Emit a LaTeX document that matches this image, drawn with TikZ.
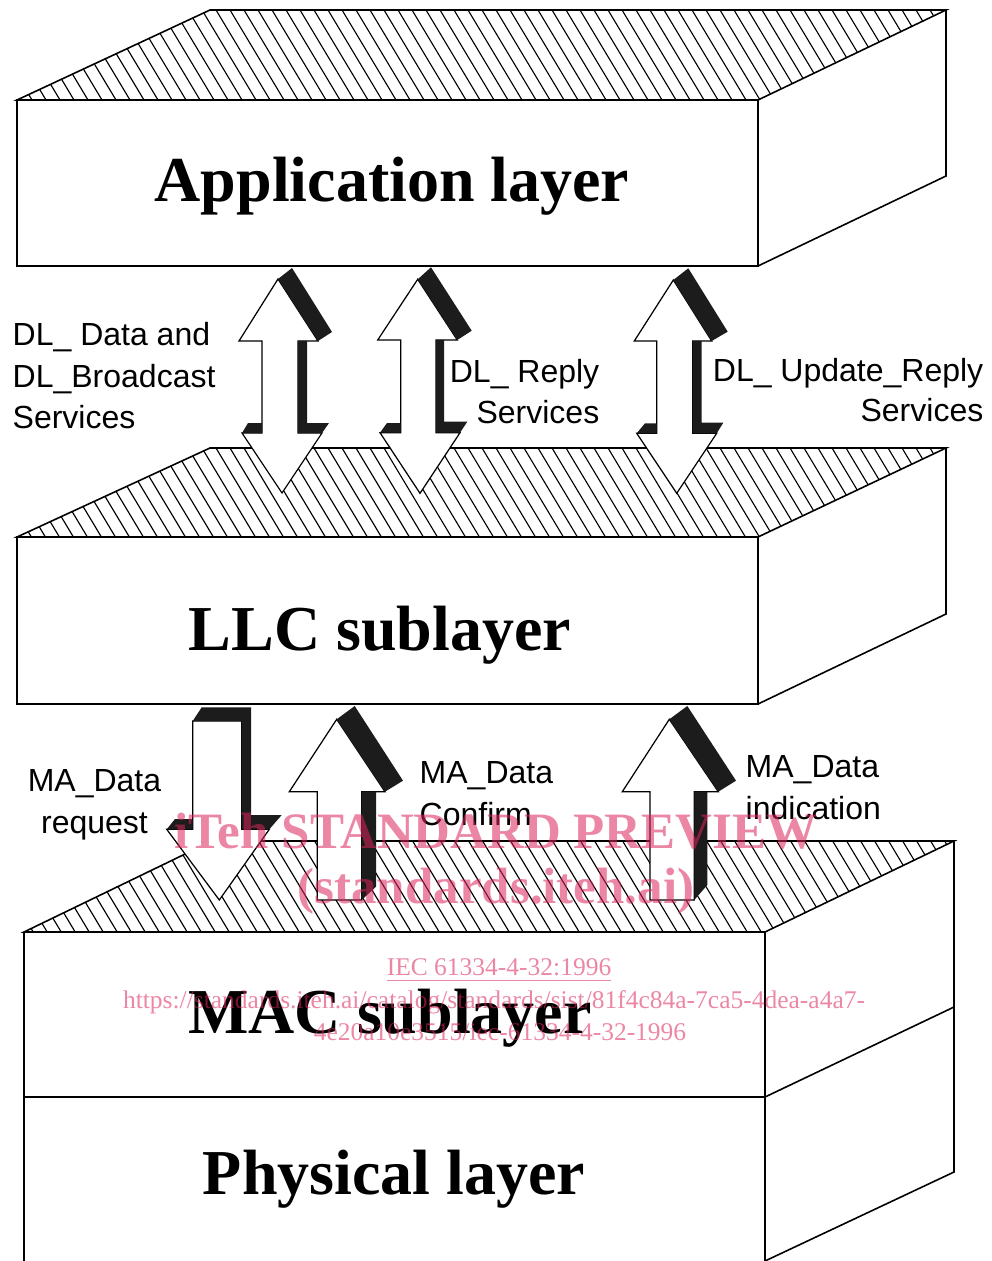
\documentclass[tikz,border=0pt]{standalone}
\usepackage{fontspec}
\setmainfont{Liberation Serif}
\newfontfamily\labelfont{Liberation Sans}
\definecolor{wmpink}{RGB}{219,37,91}
\definecolor{shadowblack}{RGB}{28,28,28}
\begin{document}
\begin{tikzpicture}[x=0.01cm,y=-0.01cm,
  edge/.style={line width=0.45pt, line join=miter},
  hatchline/.style={line width=0.32pt},
  arrowbody/.style={fill=white, draw=black, line width=0.35pt, line join=miter},
  shade3d/.style={fill=shadowblack, draw=none},
  title/.style={font=\fontsize{18.2pt}{20pt}\selectfont\bfseries, inner sep=0pt, anchor=base},
  lab/.style={font=\labelfont\fontsize{9.1pt}{11pt}\selectfont, inner sep=0pt},
  wmbig/.style={font=\fontsize{14.5pt}{16pt}\selectfont\bfseries, text=wmpink, text opacity=0.55, inner sep=0pt, anchor=base},
  wmsmall/.style={font=\fontsize{7.25pt}{9pt}\selectfont, text=wmpink, text opacity=0.55, inner sep=0pt, anchor=base}]
\useasboundingbox (0,0) rectangle (991,1261);

% ---------------- Application layer ----------------
\begin{scope}
  \clip (17,100)--(210,10)--(946,10)--(758,100)--cycle;
  \foreach \a in {-84,-70,...,960} \draw[hatchline] (\a,0)--++(66,110);
\end{scope}
\draw[edge] (17,100)--(210,10)--(946,10)--(758,100)--cycle;
\draw[edge] (17,100) rectangle (758,266);
\draw[edge] (758,266)--(946,176)--(946,10);
\node[title] (app) at (392,202) {Application layer};

% ---------------- LLC sublayer ----------------
\begin{scope}
  \clip (17,537)--(210,448)--(946,448)--(758,537)--cycle;
  \foreach \a in {-84,-70,...,960} \draw[hatchline] (\a,438)--++(66,110);
\end{scope}
\draw[edge] (17,537)--(210,448)--(946,448)--(758,537)--cycle;
\draw[edge] (17,537) rectangle (758,704);
\draw[edge] (758,704)--(946,614)--(946,448);
\node[title] (llc) at (380,650) {LLC sublayer};

% ---------------- MAC sublayer + Physical layer ----------------
\begin{scope}
  \clip (24,932)--(212,841)--(954,841)--(765,932)--cycle;
  \foreach \a in {-84,-70,...,970} \draw[hatchline] (\a,830)--++(66,110);
\end{scope}
\draw[edge] (24,932)--(212,841)--(954,841)--(765,932)--cycle;
\draw[edge] (24,932)--(24,1262);
\draw[edge] (765,932)--(765,1262);
\draw[edge] (24,1097)--(765,1097);
\draw[edge] (954,841)--(954,1172)--(765,1261);
\draw[edge] (765,1097)--(954,1007);
\node[title] (mac) at (390,1033) {MAC sublayer};
\node[title] (phy) at (394,1194) {Physical layer};

% ---------------- Upper arrows (double headed) ----------------
% DL_Data and DL_Broadcast
\draw[arrowbody] (278,279)--(318,341)--(298,341)--(298,433)--(322,433)--(282,493)--(242,433)--(262,433)--(262,341)--(239,341)--cycle;
\fill[shade3d] (278,279)--(292,268)--(332,332)--(318,341)--cycle;
\fill[shade3d] (298,341)--(307,341)--(307,423)--(329,423)--(322,433)--(298,433)--cycle;
\fill[shade3d] (248,423)--(262,423)--(262,433)--(242,433)--cycle;
% DL_Reply
\draw[arrowbody] (417.7,279.3)--(457.3,340)--(436,340)--(436,432.7)--(460,432.7)--(420,493.3)--(380,432.7)--(400.7,432.7)--(400.7,340)--(377.7,340)--cycle;
\fill[shade3d] (417.7,279.3)--(431,267.3)--(471.7,330.7)--(457.3,340)--cycle;
\fill[shade3d] (436,340)--(444,340)--(444,421.7)--(467.3,421.7)--(460,432.7)--(436,432.7)--cycle;
\fill[shade3d] (387,423)--(400.7,423)--(400.7,432.7)--(380,432.7)--cycle;
% DL_Update_Reply
\draw[arrowbody] (673.3,280)--(711.7,341)--(692.7,341)--(692.7,433.3)--(716.7,433.3)--(676.7,493.3)--(636.7,433.3)--(656.7,433.3)--(656.7,341)--(634.3,341)--cycle;
\fill[shade3d] (673.3,280)--(688.3,268.3)--(727.7,331.7)--(711.7,341)--cycle;
\fill[shade3d] (692.7,341)--(701.7,341)--(701.7,422.7)--(723.3,422.7)--(716.7,433.3)--(692.7,433.3)--cycle;
\fill[shade3d] (645,423.3)--(656.7,423.3)--(656.7,433.3)--(636.7,433.3)--cycle;

% ---------------- Lower arrows ----------------
% MA_Data request (down)
\draw[arrowbody] (192.7,721)--(241.7,721)--(241.7,829.3)--(269.3,829.3)--(219.3,900)--(166.7,829.3)--(192.7,829.3)--cycle;
\fill[shade3d] (192.7,721)--(201.7,707.3)--(251,707.3)--(251,815)--(281.7,815)--(269.3,829.3)--(241.7,829.3)--(241.7,721)--cycle;
\fill[shade3d] (175,819)--(192.7,819)--(192.7,829.3)--(166.7,829.3)--cycle;
% MA_Data Confirm (up)
\draw[arrowbody] (336.7,719.3)--(385,791.7)--(361.7,791.7)--(361.7,900)--(317.3,900)--(317.3,791.7)--(289.3,791.7)--cycle;
\fill[shade3d] (336.7,719.3)--(354.7,706)--(403,780.7)--(385,791.7)--cycle;
\fill[shade3d] (361.7,791.7)--(376,791.7)--(376,886.7)--(361.7,900)--cycle;
% MA_Data indication (up)
\draw[arrowbody] (669.3,719.3)--(718.3,791.7)--(694.3,791.7)--(694.3,900)--(650,900)--(650,791.7)--(622.3,791.7)--cycle;
\fill[shade3d] (669.3,719.3)--(687.3,706)--(736,780.7)--(718.3,791.7)--cycle;
\fill[shade3d] (694.3,791.7)--(707.3,791.7)--(707.3,885)--(694.3,900)--cycle;

% ---------------- Labels ----------------
\node[lab, anchor=base west] (l1a) at (12,346) {DL\_ Data and};
\node[lab, anchor=base west] (l1b) at (12,388) {DL\_Broadcast};
\node[lab, anchor=base west] (l1c) at (12,429) {Services};
\node[lab, anchor=base east] (l2a) at (600,383) {DL\_ Reply};
\node[lab, anchor=base east] (l2b) at (600,423) {Services};
\node[lab, anchor=base east] (l3a) at (984,381) {DL\_ Update\_Reply};
\node[lab, anchor=base east] (l3b) at (984,421) {Services};
\node[lab, anchor=base] (l4a) at (94.5,791) {MA\_Data};
\node[lab, anchor=base] (l4b) at (94.5,833) {request};
\node[lab, anchor=base west] (l5a) at (419,783) {MA\_Data};
\node[lab, anchor=base west] (l5b) at (419,825) {Confirm};
\node[lab, anchor=base west] (l6a) at (745,777) {MA\_Data};
\node[lab, anchor=base west] (l6b) at (745,819) {indication};

% ---------------- Watermark ----------------
\node[wmbig] (wm1) at (496,848) {iTeh STANDARD PREVIEW};
\node[wmbig] (wm2) at (496,903) {(standards.iteh.ai)};
\node[wmsmall] (wm3) at (499,975) {\underline{IEC 61334-4-32:1996}};
\node[wmsmall] (wm4) at (494,1008) {https://standards.iteh.ai/catalog/standards/sist/81f4c84a-7ca5-4dea-a4a7-};
\node[wmsmall] (wm5) at (500,1040) {4e20a10e3515/iec-61334-4-32-1996};
\end{tikzpicture}
\end{document}
